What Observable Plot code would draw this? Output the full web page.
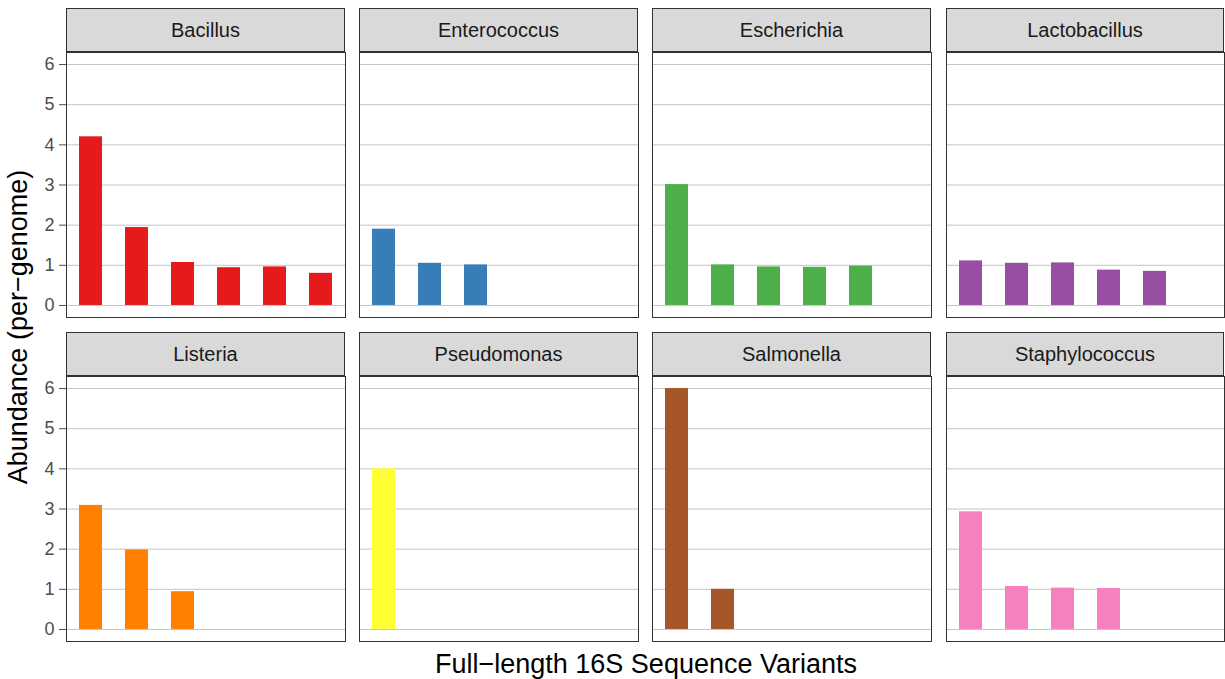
<!DOCTYPE html>
<html>
<head>
<meta charset="utf-8">
<script src="https://cdn.jsdelivr.net/npm/d3@7"></script>
<script src="https://cdn.jsdelivr.net/npm/@observablehq/plot@0.6"></script>
<style>
  body { margin: 0; background: #fff; font-family: "Liberation Sans", Arial, Helvetica, sans-serif; }
  #chart { position: relative; width: 1225px; height: 679px; overflow: hidden; background: #fff; }
  #chart svg { overflow: visible; }
  #chart svg text { font-size: 18px; }
  .panel { position: absolute; }
  .strip { position: absolute; box-sizing: border-box; background: #D9D9D9; border: 1px solid #333;
           text-align: center; font-size: 20px; color: #1A1A1A; line-height: 42px; }
  .ytitle { position: absolute; left: 18px; top: 327px; transform: translate(-50%, -50%) rotate(-90deg);
            white-space: nowrap; font-size: 27px; color: #000; }
  .xtitle { position: absolute; left: 646px; top: 664px; transform: translate(-50%, -50%);
            white-space: nowrap; font-size: 27px; color: #000; }
</style>
</head>
<body>
<div id="chart"></div>
<script>
// ---- data ----
const genera = ["Bacillus", "Enterococcus", "Escherichia", "Lactobacillus",
                "Listeria", "Pseudomonas", "Salmonella", "Staphylococcus"];
const genusColors = ["#E41A1C", "#377EB8", "#4DAF4A", "#984EA3",
                     "#FF7F00", "#FFFF33", "#A65628", "#F781BF"];
const variants = ["1", "2", "3", "4", "5", "6"];
const yTicks = [0, 1, 2, 3, 4, 5, 6];

const bacillus       = [4.20, 1.94, 1.07, 0.94, 0.96, 0.80];
const enterococcus   = [1.90, 1.05, 1.01];
const escherichia    = [3.01, 1.01, 0.96, 0.95, 0.98];
const lactobacillus  = [1.11, 1.05, 1.06, 0.88, 0.85];
const listeria       = [3.09, 1.98, 0.94];
const pseudomonas    = [4.00];
const salmonella     = [6.00, 1.00];
const staphylococcus = [2.93, 1.07, 1.03, 1.02];

const abundances = [bacillus, enterococcus, escherichia, lactobacillus,
                    listeria, pseudomonas, salmonella, staphylococcus];

// ---- layout ----
const colLeft = [66, 359, 652, 946];
const panelW = [279, 279, 279, 278];
const rowTop = [8, 332];
const stripH = 44;
const panelH = 265;
const axisW = 66;

const chart = document.getElementById("chart");

genera.forEach((g, i) => {
  const col = i % 4, row = Math.floor(i / 4);
  const first = col === 0;
  const data = abundances[i].map((v, k) => ({variant: variants[k], value: v}));

  const strip = document.createElement("div");
  strip.className = "strip";
  strip.style.left = colLeft[col] + "px";
  strip.style.top = rowTop[row] + "px";
  strip.style.width = panelW[col] + "px";
  strip.style.height = stripH + "px";
  strip.textContent = g;

  const plot = Plot.plot({
    width: panelW[col] + (first ? axisW : 0),
    height: panelH,
    marginLeft: first ? axisW : 0,
    marginRight: 0,
    marginTop: 0,
    marginBottom: 0,
    style: {fontFamily: '"Liberation Sans", Arial, Helvetica, sans-serif', fontSize: "18px", color: "#4D4D4D", background: "transparent"},
    x: {domain: variants, paddingInner: 0.5, paddingOuter: 0.25, axis: null},
    y: {domain: [-0.3, 6.3], ticks: yTicks, tickFormat: "d", tickSize: 7, tickPadding: 5, label: null,
        axis: first ? "left" : null},
    marks: [
      Plot.ruleY(yTicks, {stroke: "#C4C4C4", strokeWidth: 1}),
      Plot.barY(data, {x: "variant", y: "value", fill: genusColors[i]}),
      Plot.frame({stroke: "#333", strokeWidth: 1})
    ]
  });
  const wrap = document.createElement("div");
  wrap.className = "panel";
  wrap.style.left = (colLeft[col] - (first ? axisW : 0)) + "px";
  wrap.style.top = (rowTop[row] + stripH) + "px";
  wrap.appendChild(plot);
  chart.appendChild(wrap);
  chart.appendChild(strip);
});

const yt = document.createElement("div");
yt.className = "ytitle";
yt.textContent = "Abundance (per\u2212genome)";
chart.appendChild(yt);

const xt = document.createElement("div");
xt.className = "xtitle";
xt.textContent = "Full\u2212length 16S Sequence Variants";
chart.appendChild(xt);
</script>
</body>
</html>
